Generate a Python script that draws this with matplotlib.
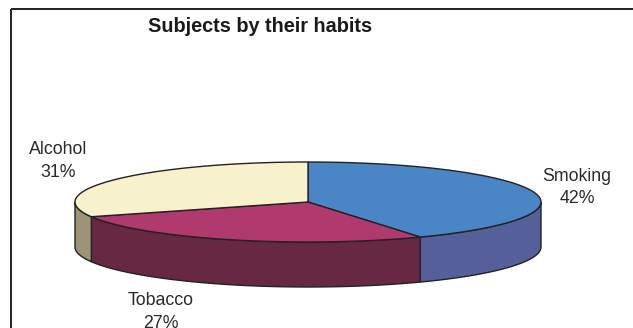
import numpy as np
import matplotlib.pyplot as plt
from matplotlib.patches import Polygon

# Data
labels = ['Smoking', 'Tobacco', 'Alcohol']
values = [42, 27, 31]
top_colors = ['#4a86c5', '#b03a6e', '#f8f2cc']
side_colors = ['#55609a', '#662843', '#9c9474']

# Pie geometry (pixels)
cx, cy = 308, 202
a, b = 233, 40
depth = 45

fig = plt.figure(figsize=(6.33, 3.28), dpi=100)
ax = fig.add_axes([0, 0, 1, 1])
ax.set_xlim(0, 633)
ax.set_ylim(328, 0)
ax.axis('off')

# frame (top and left only visible)
ax.plot([11, 650], [9, 9], color='#222222', lw=1.4, solid_capstyle='butt')
ax.plot([11, 11], [9, 340], color='#222222', lw=1.4, solid_capstyle='butt')

fracs = np.array(values) / sum(values)
starts = 90 - 360 * np.concatenate([[0], np.cumsum(fracs)[:-1]])
ends = starts - 360 * fracs


def pt(theta, dz=0):
    t = np.radians(theta)
    return cx + a * np.cos(t), cy - b * np.sin(t) + dz


# side walls (front half only: angles between -180 and 0)
for s, e, col in zip(starts, ends, side_colors):
    lo, hi = max(e, -180), min(s, 0)
    if lo >= hi:
        continue
    th = np.linspace(hi, lo, 80)
    top = [pt(t) for t in th]
    bot = [pt(t, depth) for t in th[::-1]]
    ax.add_patch(Polygon(top + bot, closed=True, facecolor=col,
                         edgecolor='#222222', lw=1.0, zorder=2))

# top faces
for s, e, col in zip(starts, ends, top_colors):
    th = np.linspace(s, e, 120)
    verts = [(cx, cy)] + [pt(t) for t in th]
    ax.add_patch(Polygon(verts, closed=True, facecolor=col,
                         edgecolor='#222222', lw=1.0, zorder=3))

# labels
label_pos = {'Smoking': (577, 187.5), 'Tobacco': (161, 312), 'Alcohol': (58, 161)}
for lab, v in zip(labels, values):
    x, y = label_pos[lab]
    ax.text(x, y, f'{lab}\n{v}%', ha='center', va='center', fontsize=12.8,
            family='Liberation Sans', color='#2a2a2a', linespacing=1.4)

ax.text(260, 27, 'Subjects by their habits', ha='center', va='center',
        fontsize=14.3, fontweight='bold', family='Liberation Sans', color='#1a1a1a')

plt.savefig('out.png', dpi=100)
plt.close()
